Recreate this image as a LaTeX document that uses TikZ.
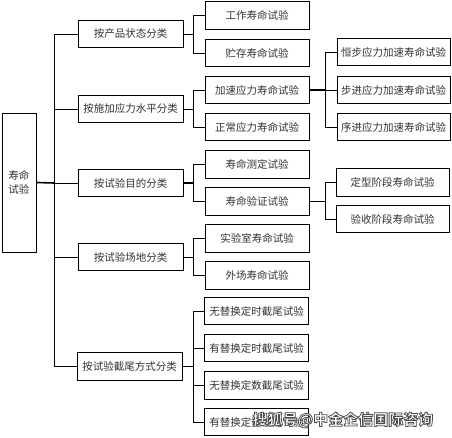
\documentclass[tikz,border=0pt]{standalone}
\usepackage{fontspec}
\newfontfamily\cjk{Noto Sans CJK SC}
\usetikzlibrary{positioning}
\newcommand{\outlined}[1]{\special{pdf:literal direct q 2 Tr 0.8 w 0.3 G 1 g}#1\special{pdf:literal direct Q}}

\begin{document}
\begin{tikzpicture}[x=1pt,y=-1pt,line width=0.8pt,
  box/.style={draw,fill=white,inner sep=0pt,minimum height=27.5pt,
    text=black!80,font=\cjk\fontsize{10.5}{14}\selectfont},
  lvone/.style={box,minimum width=105pt},
  lvtwo/.style={box,minimum width=104pt},
  lvthree/.style={box,minimum width=113pt},
  stub/.style={line width=1.6pt}]
\useasboundingbox (0,0) rectangle (452,438);
% root
\node[box,minimum width=34pt,minimum height=139pt,align=center] (root) at (19,182.5) {寿命\\试验};
% first level
\node[lvone] (k1) at (130.5,34) {按产品状态分类};
\node[lvone] (k2) at (130.5,109) {按施加应力水平分类};
\node[lvone] (k3) at (130.5,183) {按试验目的分类};
\node[lvone] (k4) at (130.5,257) {按试验场地分类};
\node[lvone] (k5) at (129.5,366.5) {按试验截尾方式分类};
% second level
\node[lvtwo] (t1) at (257,15.5) {工作寿命试验};
\node[lvtwo] (t2) at (257,53) {贮存寿命试验};
\node[lvtwo] (t3) at (257,90) {加速应力寿命试验};
\node[lvtwo] (t4) at (257,127) {正常应力寿命试验};
\node[lvtwo] (t5) at (257,164.5) {寿命测定试验};
\node[lvtwo] (t6) at (257,201.5) {寿命验证试验};
\node[lvtwo] (t7) at (257,238.5) {实验室寿命试验};
\node[lvtwo] (t8) at (257,275.5) {外场寿命试验};
\node[lvtwo] (t9) at (256.5,311) {无替换定时截尾试验};
\node[lvtwo] (t10) at (256.5,348) {有替换定时截尾试验};
\node[lvtwo] (t11) at (256.5,385.5) {无替换定数截尾试验};
\node[lvtwo] (t12) at (256.5,422) {有替换定数截尾试验};
% third level
\node[lvthree] (s1) at (393.5,52) {恒步应力加速寿命试验};
\node[lvthree] (s2) at (393.5,90) {步进应力加速寿命试验};
\node[lvthree] (s3) at (393.5,127) {序进应力加速寿命试验};
\node[lvthree] (s4) at (392.5,182.5) {定型阶段寿命试验};
\node[lvthree] (s5) at (392.5,219) {验收阶段寿命试验};
% connectors
\coordinate (tr) at (54,183);
\draw[stub] (root.east) -- (tr);
\foreach \k in {k1,k2,k3,k4,k5}{\draw (tr) |- (\k.west);}
\coordinate (b1) at (193,34);
\coordinate (b2) at (193,109);
\coordinate (b3) at (193,183);
\coordinate (b4) at (193,257);
\coordinate (b5) at (193,366.5);
\draw (k1.east) -- (b1);
\foreach \t in {t1,t2}{\draw (b1) |- (\t.west);}
\draw (k2.east) -- (b2);
\foreach \t in {t3,t4}{\draw (b2) |- (\t.west);}
\draw[stub] (k3.east) -- (b3);
\foreach \t in {t5,t6}{\draw (b3) |- (\t.west);}
\draw (k4.east) -- (b4);
\foreach \t in {t7,t8}{\draw (b4) |- (\t.west);}
\draw[stub] (k5.east) -- (b5);
\foreach \t in {t9,t10,t11,t12}{\draw (b5) |- (\t.west);}
\coordinate (c3) at (325,90);
\coordinate (c6) at (325,201.5);
\draw[stub] (t3.east) -- (c3);
\foreach \s in {s1,s2,s3}{\draw (c3) |- (\s.west);}
\draw (t6.east) -- (c6);
\foreach \s in {s4,s5}{\draw (c6) |- (\s.west);}
% watermark
\node[text=white,font=\cjk\bfseries\fontsize{15}{15}\selectfont,anchor=east] (wm) at (437,420) {\outlined{搜狐号@中金企信国际咨询}};
\end{tikzpicture}
\end{document}
